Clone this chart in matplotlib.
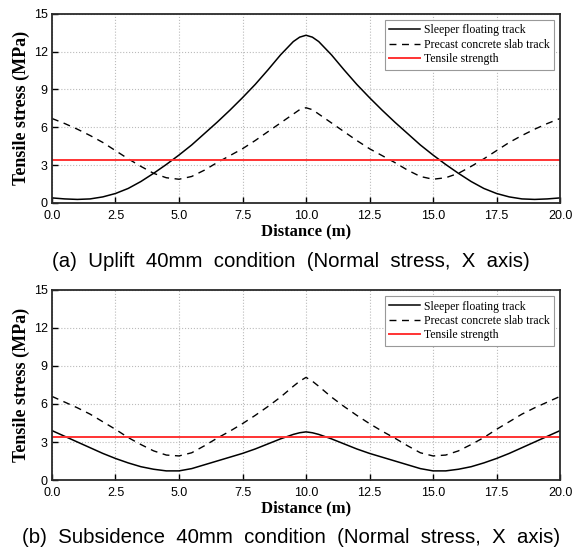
import matplotlib
matplotlib.use("Agg")
import matplotlib.pyplot as plt

# distance (m), every 0.5 m plus two extra points around the peak
distance = [0.0, 0.5, 1.0, 1.5, 2.0, 2.5, 3.0, 3.5, 4.0, 4.5,
            5.0, 5.5, 6.0, 6.5, 7.0, 7.5, 8.0, 8.5, 9.0, 9.5,
            9.75, 10.0, 10.25,
            10.5, 11.0, 11.5, 12.0, 12.5, 13.0, 13.5, 14.0, 14.5, 15.0,
            15.5, 16.0, 16.5, 17.0, 17.5, 18.0, 18.5, 19.0, 19.5, 20.0]

# (a) uplift 40mm
uplift_sleeper = [0.40, 0.32, 0.28, 0.32, 0.48, 0.75, 1.15, 1.70, 2.35, 3.05,
                  3.80, 4.60, 5.50, 6.40, 7.35, 8.35, 9.40, 10.55, 11.75, 12.80,
                  13.15, 13.30, 13.15,
                  12.80, 11.75, 10.55, 9.40, 8.35, 7.35, 6.40, 5.50, 4.60, 3.80,
                  3.05, 2.35, 1.70, 1.15, 0.75, 0.48, 0.32, 0.28, 0.32, 0.40]
uplift_precast = [6.70, 6.30, 5.85, 5.35, 4.80, 4.15, 3.50, 2.90, 2.35, 2.00,
                  1.88, 2.10, 2.60, 3.20, 3.75, 4.30, 4.95, 5.65, 6.35, 7.05,
                  7.40, 7.55, 7.40,
                  7.05, 6.35, 5.65, 4.95, 4.30, 3.75, 3.20, 2.60, 2.10, 1.88,
                  2.00, 2.35, 2.90, 3.50, 4.15, 4.80, 5.35, 5.85, 6.30, 6.70]

# (b) subsidence 40mm
subs_sleeper = [3.90, 3.45, 3.00, 2.55, 2.10, 1.70, 1.35, 1.05, 0.85, 0.72,
                0.72, 0.90, 1.20, 1.50, 1.80, 2.10, 2.45, 2.85, 3.25, 3.60,
                3.73, 3.80, 3.73,
                3.60, 3.25, 2.85, 2.45, 2.10, 1.80, 1.50, 1.20, 0.90, 0.72,
                0.72, 0.85, 1.05, 1.35, 1.70, 2.10, 2.55, 3.00, 3.45, 3.90]
subs_precast = [6.60, 6.15, 5.70, 5.20, 4.60, 4.00, 3.35, 2.80, 2.30, 1.97,
                1.90, 2.15, 2.70, 3.30, 3.85, 4.45, 5.10, 5.80, 6.55, 7.40,
                7.80, 8.10, 7.80,
                7.40, 6.55, 5.80, 5.10, 4.45, 3.85, 3.30, 2.70, 2.15, 1.90,
                1.97, 2.30, 2.80, 3.35, 4.00, 4.60, 5.20, 5.70, 6.15, 6.60]

tensile_strength = 3.4

captions = ["(a)  Uplift  40mm  condition  (Normal  stress,  X  axis)",
            "(b)  Subsidence  40mm  condition  (Normal  stress,  X  axis)"]

fig = plt.figure(figsize=(5.82, 5.53), dpi=100)
ax1 = fig.add_axes([0.0893, 0.633, 0.873, 0.342])
ax2 = fig.add_axes([0.0893, 0.132, 0.873, 0.3436])

serif = "Liberation Serif"
sans = "Liberation Sans"

for ax, sl, pc in [(ax1, uplift_sleeper, uplift_precast),
                   (ax2, subs_sleeper, subs_precast)]:
    ax.plot(distance, sl, color="black", lw=1.1, label="Sleeper floating track")
    ax.plot(distance, pc, color="black", lw=1.0, ls=(0, (5, 4)),
            label="Precast concrete slab track")
    ax.axhline(tensile_strength, color="#ff3333", lw=1.4, label="Tensile strength")
    ax.set_xlim(0, 20)
    ax.set_ylim(0, 15)
    ax.set_xticks([0, 2.5, 5, 7.5, 10, 12.5, 15, 17.5, 20])
    ax.set_xticklabels(["0.0", "2.5", "5.0", "7.5", "10.0", "12.5", "15.0", "17.5", "20.0"])
    ax.set_yticks([0, 3, 6, 9, 12, 15])
    ax.grid(True, color="#bbbbbb", ls=":", lw=0.8)
    ax.tick_params(direction="in", length=4, width=1, labelsize=9)
    ax.tick_params(axis="x", pad=5)
    ax.tick_params(axis="y", pad=3)
    for lab in ax.get_xticklabels() + ax.get_yticklabels():
        lab.set_fontfamily(sans)
    for s in ax.spines.values():
        s.set_linewidth(1.3)
        s.set_color("#2a2a2a")
    ax.set_xlabel("Distance (m)", fontfamily=serif, fontweight="bold", fontsize=12, labelpad=1)
    ax.set_ylabel("Tensile stress (MPa)", fontfamily=serif, fontweight="bold", fontsize=13, labelpad=3)
    leg = ax.legend(loc="upper right", prop={"family": serif, "size": 8.5},
                    fancybox=False, edgecolor="#999999", framealpha=1,
                    handlelength=2.6, handletextpad=0.3, borderpad=0.4,
                    labelspacing=0.2, borderaxespad=0.5)
    leg.get_frame().set_linewidth(0.8)

fig.text(0.5, 0.527, captions[0], ha="center", va="center", fontsize=14.7,
         fontfamily=sans)
fig.text(0.5, 0.028, captions[1], ha="center", va="center", fontsize=14.7,
         fontfamily=sans)

fig.savefig("out.png", dpi=100)
